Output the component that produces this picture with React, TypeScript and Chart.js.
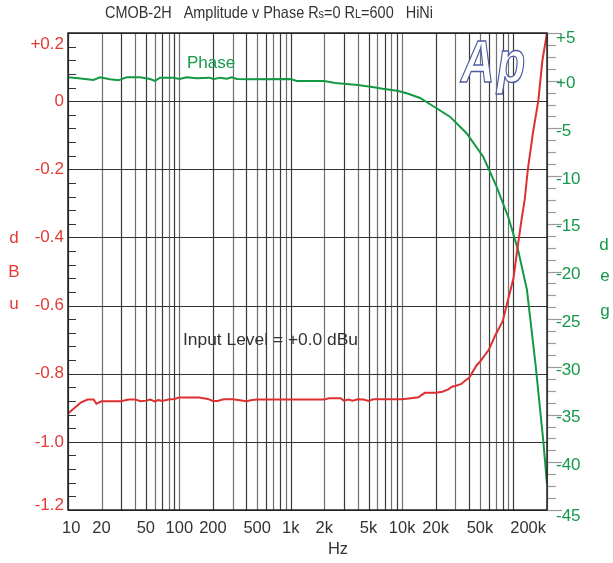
import React, { useEffect, useRef } from 'react';
import { Chart, registerables } from 'chart.js';
Chart.register(...registerables);

// Amplitude (dBu) vs frequency (Hz)
const ampFreq = [10, 11, 12, 13, 15, 17, 18, 20, 25, 30, 35, 40, 45, 50, 55, 60, 65, 70, 80, 90, 100, 150, 180, 200, 220, 250, 300, 350, 400, 450, 500, 1000, 2000, 2200, 2800, 3000, 3300, 3600, 4000, 4500, 5000, 5500, 10000, 12000, 14000, 15000, 16000, 20000, 23000, 26000, 28000, 30000, 34000, 37000, 40000, 46700, 50000, 60000, 68000, 80000, 86700, 100000, 108000, 118000, 126000, 135000, 150000, 167000, 182000, 200000];
const ampDbu = [-0.917, -0.905, -0.895, -0.885, -0.876, -0.876, -0.888, -0.881, -0.881, -0.881, -0.876, -0.876, -0.881, -0.879, -0.876, -0.881, -0.877, -0.88, -0.876, -0.874, -0.87, -0.87, -0.874, -0.88, -0.88, -0.875, -0.875, -0.878, -0.881, -0.877, -0.876, -0.876, -0.876, -0.872, -0.872, -0.879, -0.876, -0.879, -0.875, -0.876, -0.88, -0.875, -0.875, -0.872, -0.869, -0.862, -0.856, -0.856, -0.853, -0.846, -0.838, -0.836, -0.83, -0.82, -0.812, -0.775, -0.765, -0.73, -0.69, -0.646, -0.6, -0.52, -0.437, -0.349, -0.29, -0.197, -0.09, 0.0, 0.12, 0.2];

// Phase (deg) vs frequency (Hz)
const phaseFreq = [10, 12.4, 16.9, 19.4, 23.8, 28.3, 33.6, 44.2, 54.5, 60.4, 67, 88, 101, 116, 143, 188, 202, 232, 266, 296, 328, 429, 1000, 1130, 2000, 2500, 4000, 5400, 6700, 9000, 11000, 14500, 18900, 26900, 37900, 53500, 70500, 89600, 110000, 132000, 158000, 185000, 200000];
const phaseDeg = [0.36, 0.25, 0.07, 0.36, 0.15, 0.04, 0.36, 0.36, 0.18, -0.03, 0.32, 0.32, 0.18, 0.36, 0.25, 0.32, 0.15, 0.32, 0.21, 0.36, 0.18, 0.15, 0.18, -0.03, -0.03, -0.24, -0.45, -0.66, -0.84, -1.05, -1.32, -1.81, -2.65, -3.77, -5.5, -7.97, -11.1, -14.26, -17.75, -21.9, -29.8, -37.7, -42.3];

const xLabelValues = [10, 20, 50, 100, 200, 500, 1000, 2000, 5000, 10000, 20000, 50000, 200000];
const xLabels = ['10', '20', '50', '100', '200', '500', '1k', '2k', '5k', '10k', '20k', '50k', '200k'];
const dbTickValues = [0.2, 0, -0.2, -0.4, -0.6, -0.8, -1.0, -1.2];
const dbLabels = ['+0.2', '0', '-0.2', '-0.4', '-0.6', '-0.8', '-1.0', '-1.2'];
const degTickValues = [5, 0, -5, -10, -15, -20, -25, -30, -35, -40, -45];
const degLabels = ['+5', '+0', '-5', '-10', '-15', '-20', '-25', '-30', '-35', '-40', '-45'];

const TITLE_PARTS: [string, boolean][] = [
  ['CMOB-2H   Amplitude v Phase R', false],
  ['s', true],
  ['=0 R', false],
  ['L', true],
  ['=600   HiNi', false],
];
const RED = '#e23b36';
const GREEN = '#14994a';
const FONT = '"Liberation Sans", Arial, sans-serif';

const gridFreqs: number[] = [];
for (let d = 10; d <= 10000; d *= 10) for (let m = 1; m <= 9; m++) gridFreqs.push(d * m);
gridFreqs.push(100000, 200000);

const overlay = {
  id: 'overlay',
  beforeDatasetsDraw(chart: any) {
    const ctx = chart.ctx;
    const a = chart.chartArea;
    const x = chart.scales.x;
    const y = chart.scales.y;
    const y2 = chart.scales.y2;
    ctx.save();
    // vertical grid
    gridFreqs.forEach((f, i) => {
      const px = Math.round(x.getPixelForValue(f));
      ctx.strokeStyle = i % 2 === 0 ? '#3a3a3a' : '#707070';
      ctx.lineWidth = 1.2;
      ctx.beginPath();
      ctx.moveTo(px + 0.5, a.top);
      ctx.lineTo(px + 0.5, a.bottom);
      ctx.stroke();
    });
    // horizontal grid
    ctx.strokeStyle = '#333';
    ctx.lineWidth = 1.2;
    dbTickValues.forEach((v) => {
      const py = Math.round(y.getPixelForValue(v)) + 0.5;
      ctx.beginPath();
      ctx.moveTo(a.left, py);
      ctx.lineTo(a.right + 1, py);
      ctx.stroke();
    });
    // left inner minor ticks
    ctx.strokeStyle = '#333';
    ctx.lineWidth = 1;
    for (let i = 0; i <= 35; i++) {
      if (i % 5 === 0) continue;
      const v = -1.2 + i * 0.04;
      const py = Math.round(y.getPixelForValue(v)) + 0.5;
      ctx.beginPath();
      ctx.moveTo(a.left, py);
      ctx.lineTo(a.left + 8, py);
      ctx.stroke();
    }
    // right outer ticks
    ctx.strokeStyle = '#9a9a9a';
    ctx.lineWidth = 1.2;
    for (let i = 0; i <= 40; i++) {
      const v = -45 + i * 1.25;
      const py = Math.round(y2.getPixelForValue(v)) + 0.5;
      const major = i % 4 === 0;
      ctx.beginPath();
      ctx.moveTo(a.right, py);
      ctx.lineTo(a.right + (major ? 15 : 9), py);
      ctx.stroke();
    }
    // Ap logo
    ctx.save();
    ctx.translate(461, 82);
    ctx.scale(0.8, 1.02);
    ctx.font = `italic bold 58px ${FONT}`;
    ctx.textAlign = 'left';
    ctx.textBaseline = 'alphabetic';
    ctx.fillStyle = '#ffffff';
    ctx.fillText('A', 0, 0);
    ctx.fillText('p', 45, 0);
    ctx.strokeStyle = '#4d5aa6';
    ctx.lineWidth = 1.4;
    ctx.strokeText('A', 0, 0);
    ctx.strokeText('p', 45, 0);
    ctx.restore();
    ctx.restore();
  },
  afterDraw(chart: any) {
    const ctx = chart.ctx;
    const a = chart.chartArea;
    const x = chart.scales.x;
    const y = chart.scales.y;
    const y2 = chart.scales.y2;
    ctx.save();
    // frame
    ctx.strokeStyle = '#222';
    ctx.lineWidth = 1.5;
    ctx.strokeRect(a.left, a.top, a.right - a.left, a.bottom - a.top);

    ctx.textBaseline = 'middle';
    // title (fit to the reference width)
    ctx.fillStyle = '#333';
    ctx.textAlign = 'left';
    const big = `16.5px ${FONT}`;
    const small = `12.5px ${FONT}`;
    let w = 0;
    TITLE_PARTS.forEach(([t, s]) => { ctx.font = s ? small : big; w += ctx.measureText(t).width; });
    const targetW = 328;
    ctx.save();
    ctx.translate(105, 13);
    ctx.scale(targetW / w, 1);
    let cx = 0;
    TITLE_PARTS.forEach(([t, s]) => {
      ctx.font = s ? small : big;
      ctx.fillText(t, cx, s ? 2 : 0);
      cx += ctx.measureText(t).width;
    });
    ctx.restore();

    // x labels
    ctx.font = `16.5px ${FONT}`;
    xLabelValues.forEach((v, i) => {
      const px = x.getPixelForValue(v);
      ctx.textAlign = 'center';
      let tx = px;
      if (i === 0) { ctx.textAlign = 'left'; tx = px - 6; }
      if (i === xLabelValues.length - 1) { ctx.textAlign = 'right'; tx = px - 1; }
      ctx.fillText(xLabels[i], tx, 528);
    });
    ctx.textAlign = 'center';
    ctx.fillText('Hz', 338, 549);

    ctx.font = `17px ${FONT}`;
    // left labels
    ctx.fillStyle = RED;
    ctx.textAlign = 'right';
    dbTickValues.forEach((v, i) => {
      let py = y.getPixelForValue(v);
      if (i === 0) py += 11;
      if (i === dbTickValues.length - 1) py -= 5;
      ctx.fillText(dbLabels[i], 64, py);
    });
    ctx.textAlign = 'center';
    ctx.fillText('d', 14, 238);
    ctx.fillText('B', 14, 272);
    ctx.fillText('u', 14, 304);

    // right labels
    ctx.fillStyle = GREEN;
    ctx.textAlign = 'left';
    degTickValues.forEach((v, i) => {
      let py = y2.getPixelForValue(v) + 3;
      if (i === 0) py += 2;
      if (i === degTickValues.length - 1) py += 3;
      ctx.fillText(degLabels[i], 556, py);
    });
    ctx.textAlign = 'center';
    ctx.fillText('d', 604, 245);
    ctx.fillText('e', 605, 276);
    ctx.fillText('g', 605, 311);

    // annotations
    ctx.textAlign = 'left';
    ctx.fillStyle = GREEN;
    ctx.fillText('Phase', 187, 63);
    ctx.fillStyle = '#333';
    ctx.font = `17.4px ${FONT}`;
    ctx.fillText('Input Level = +0.0 dBu', 183, 340);
    ctx.restore();
  },
};

export default function App() {
  const ref = useRef<HTMLCanvasElement>(null);
  useEffect(() => {
    document.body.style.margin = '0';
    const ampPts = ampFreq.map((f, i) => ({ x: f, y: ampDbu[i] }));
    const phPts = phaseFreq.map((f, i) => ({ x: f, y: phaseDeg[i] }));
    const chart = new Chart(ref.current as HTMLCanvasElement, {
      type: 'line',
      data: {
        datasets: [
          { data: ampPts, borderColor: '#dd3030', borderWidth: 2, pointRadius: 0, yAxisID: 'y', tension: 0 },
          { data: phPts, borderColor: '#139944', borderWidth: 2, pointRadius: 0, yAxisID: 'y2', tension: 0 },
        ],
      },
      options: {
        animation: false,
        responsive: false,
        events: [],
        layout: { padding: { left: 68, top: 33, right: 66, bottom: 53 } },
        plugins: { legend: { display: false }, tooltip: { enabled: false }, title: { display: false } },
        scales: {
          x: {
            type: 'logarithmic',
            min: 10,
            max: 200000,
            ticks: { display: false },
            grid: { display: false, drawTicks: false },
            border: { display: false },
          },
          y: {
            type: 'linear',
            position: 'left',
            min: -1.2,
            max: 0.2,
            ticks: { display: false },
            grid: { display: false, drawTicks: false },
            border: { display: false },
          },
          y2: {
            type: 'linear',
            position: 'right',
            min: -45,
            max: 5,
            ticks: { display: false },
            grid: { display: false, drawTicks: false },
            border: { display: false },
          },
        },
      },
      plugins: [overlay],
    } as any);
    return () => chart.destroy();
  }, []);
  return <canvas ref={ref} width={613} height={563} style={{ display: 'block' }} />;
}
